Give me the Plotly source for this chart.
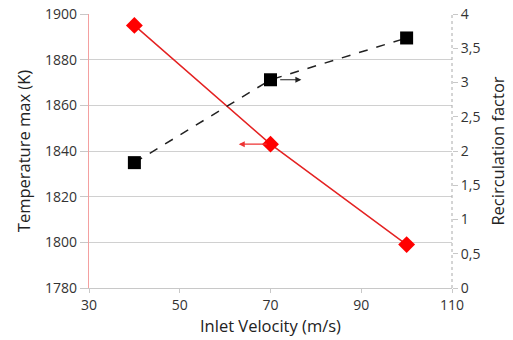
import plotly.graph_objects as go

velocity = [40, 70, 100]
temp_max = [1895, 1843, 1799]
recirc = [1.83, 3.04, 3.65]

x_ticks = [30, 50, 70, 90, 110]
t_ticks = [1780, 1800, 1820, 1840, 1860, 1880, 1900]
r_ticks = [0, 0.5, 1, 1.5, 2, 2.5, 3, 3.5, 4]

font = "Open Sans, Liberation Sans, sans-serif"

fig = go.Figure()
fig.add_trace(go.Scatter(
    x=velocity, y=temp_max, mode="lines+markers",
    line=dict(color="#e42222", width=1.5),
    marker=dict(symbol="diamond", size=13, color="#ff0000"),
    yaxis="y", showlegend=False))
fig.add_trace(go.Scatter(
    x=velocity, y=recirc, mode="lines+markers",
    line=dict(color="#222222", width=1.5, dash="dash"),
    marker=dict(symbol="square", size=13, color="#000000"),
    yaxis="y2", showlegend=False))

# arrows indicating which axis each series belongs to
fig.add_annotation(x=velocity[1] + 6.8, y=recirc[1], ax=velocity[1] + 1.8, ay=recirc[1],
                   xref="x", yref="y2", axref="x", ayref="y2", text="",
                   showarrow=True, arrowhead=2, arrowsize=1, arrowwidth=1.2,
                   arrowcolor="#222222")
fig.add_annotation(x=velocity[1] - 7, y=temp_max[1], ax=velocity[1] - 0.5, ay=temp_max[1],
                   xref="x", yref="y", axref="x", ayref="y", text="",
                   showarrow=True, arrowhead=2, arrowsize=1, arrowwidth=1.2,
                   arrowcolor="#ee3333")

# dashed right axis line
fig.add_shape(type="line", xref="paper", yref="paper", x0=1, x1=1, y0=0, y1=1,
              line=dict(color="#aaaaaa", width=1, dash="dot"))

fig.update_layout(
    width=513, height=340,
    margin=dict(l=89, r=61, t=14, b=52),
    plot_bgcolor="white", paper_bgcolor="white",
    separators=", ",
    font=dict(family=font, size=14, color="#333333"),
    xaxis=dict(range=[30, 110], tickvals=x_ticks, showgrid=False, zeroline=False,
               showline=True, linecolor="#c8c8c8", linewidth=1, automargin=False,
               ticks="outside", ticklen=4, tickcolor="#c8c8c8",
               title=dict(text="Inlet Velocity (m/s)", standoff=4,
                          font=dict(size=16.5, color="#222222"))),
    yaxis=dict(range=[1780, 1900], tickvals=t_ticks, showgrid=True,
               gridcolor="#d0d0d0", gridwidth=1, zeroline=False, automargin=False,
               showline=True, linecolor="#f4a0a0", linewidth=1.2,
               ticks="outside", ticklen=8, tickcolor="#c8c8c8",
               title=dict(text="Temperature max (K)", standoff=10,
                          font=dict(size=16.5, color="#222222"))),
    yaxis2=dict(range=[0, 4], tickvals=r_ticks, overlaying="y", side="right",
                showgrid=False, zeroline=False, showline=False, automargin=False,
                ticks="outside", ticklen=5, tickcolor="#c8c8c8",
                title=dict(text="Recirculation factor", standoff=13,
                           font=dict(size=16.5, color="#222222"))),
)

fig.write_html("out.html")
